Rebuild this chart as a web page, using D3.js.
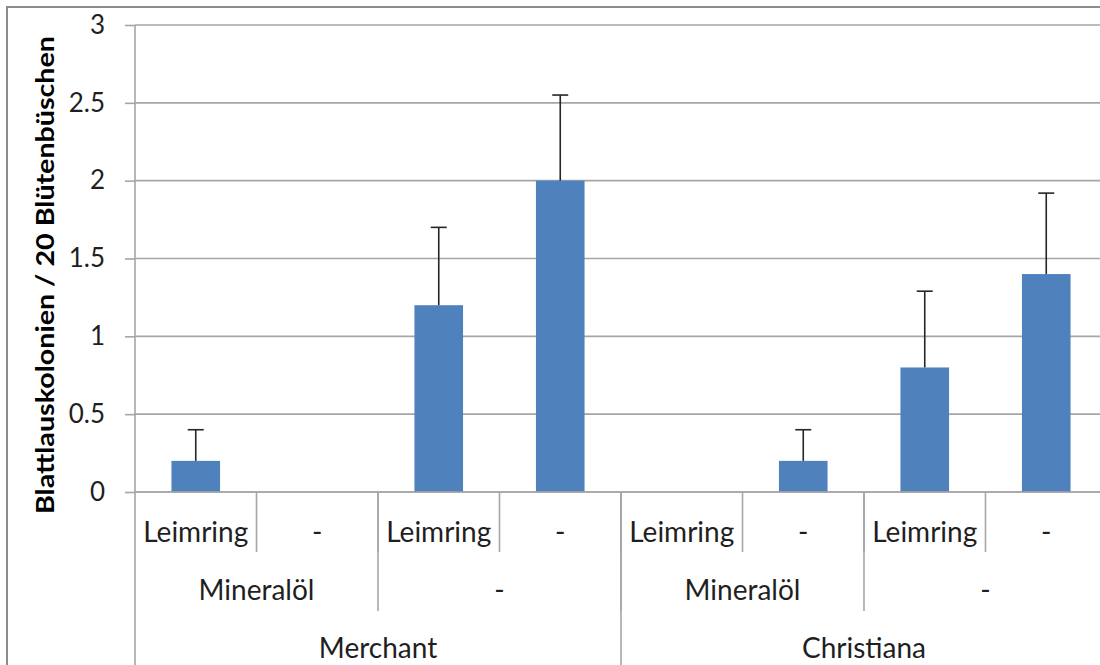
<!DOCTYPE html>
<html>
<head>
<meta charset="utf-8">
<script src="https://cdn.jsdelivr.net/npm/d3@7"></script>
<style>
  body { margin: 0; background: #fff; }
  svg { display: block; font-family: Lato, "Open Sans", sans-serif; }
</style>
</head>
<body>
<div id="chart"></div>
<script>
// data
const varieties = ["Merchant", "Christiana"]
const treatments = ["Mineralöl", "-"]
const barriers = ["Leimring", "-"]
const means = [0.2, 0, 1.2, 2.0, 0, 0.2, 0.8, 1.4]
const errors = [0.2, 0, 0.5, 0.55, 0, 0.2, 0.49, 0.52]
const yTicks = [0, 0.5, 1, 1.5, 2, 2.5, 3]
const yTitle = "Blattlauskolonien  / 20 Blütenbüschen"

const W = 1100, H = 665
const plot = { left: 135, right: 1107, top: 25, bottom: 492 }

const svg = d3.select("#chart").append("svg")
    .attr("width", W)
    .attr("height", H)

// outer chart border (cut off at right/bottom like the original)
svg.append("rect")
    .attr("x", 7).attr("y", 7)
    .attr("width", W + 20).attr("height", H + 20)
    .attr("fill", "none")
    .attr("stroke", "#8c8c8c")
    .attr("stroke-width", 2)

const cats = d3.range(means.length)
const x = d3.scaleBand().domain(cats).range([plot.left, plot.right])
const y = d3.scaleLinear().domain([0, 3]).range([plot.bottom, plot.top])

// horizontal gridlines
svg.selectAll("line.grid")
    .data(yTicks)
    .join("line")
    .attr("class", "grid")
    .attr("x1", plot.left).attr("x2", plot.right)
    .attr("y1", d => y(d)).attr("y2", d => y(d))
    .attr("stroke", "#a6a6a6")
    .attr("stroke-width", 1.6)

// y axis
const yAxis = svg.append("g")
    .attr("transform", `translate(${plot.left},0)`)
    .call(d3.axisLeft(y).tickValues(yTicks).tickSize(10).tickPadding(20).tickFormat(d3.format("")))
yAxis.select(".domain").remove()
yAxis.selectAll(".tick line").attr("stroke", "#a6a6a6").attr("stroke-width", 1.6)
yAxis.selectAll(".tick text")
    .attr("fill", "#1f1f1f")
    .style("font-size", "26px")
    .style("font-family", "Lato, sans-serif")

// vertical axis line, runs down through the category labels
svg.append("line")
    .attr("x1", plot.left).attr("x2", plot.left)
    .attr("y1", plot.top).attr("y2", H)
    .attr("stroke", "#a6a6a6")
    .attr("stroke-width", 1.6)

// y axis title
svg.append("text")
    .attr("transform", `translate(54,275) rotate(-90)`)
    .attr("text-anchor", "middle")
    .attr("textLength", 478)
    .attr("lengthAdjust", "spacingAndGlyphs")
    .style("font-size", "25px")
    .style("font-weight", "bold")
    .attr("fill", "#000")
    .text(yTitle)

// bars
svg.selectAll("rect.bar")
    .data(cats.filter(i => means[i] > 0))
    .join("rect")
    .attr("class", "bar")
    .attr("x", i => x(i) + x.bandwidth() * 0.3)
    .attr("width", x.bandwidth() * 0.4)
    .attr("y", i => y(means[i]))
    .attr("height", i => y(0) - y(means[i]))
    .attr("fill", "#4f81bd")

// error bars (upper only)
const err = svg.selectAll("g.err")
    .data(cats.filter(i => errors[i] > 0))
    .join("g")
    .attr("class", "err")
    .attr("stroke", "#262626")
    .attr("stroke-width", 1.6)
err.append("line")
    .attr("x1", i => x(i) + x.bandwidth() / 2)
    .attr("x2", i => x(i) + x.bandwidth() / 2)
    .attr("y1", i => y(means[i]))
    .attr("y2", i => y(means[i] + errors[i]))
err.append("line")
    .attr("x1", i => x(i) + x.bandwidth() / 2 - 8)
    .attr("x2", i => x(i) + x.bandwidth() / 2 + 8)
    .attr("y1", i => y(means[i] + errors[i]))
    .attr("y2", i => y(means[i] + errors[i]))

// baseline on top of bars
svg.append("line")
    .attr("x1", plot.left).attr("x2", plot.right)
    .attr("y1", y(0)).attr("y2", y(0))
    .attr("stroke", "#a6a6a6")
    .attr("stroke-width", 1.6)

// multi-level category axis
const bw = x.bandwidth()
const level1 = cats.map(i => ({ label: barriers[i % 2], x0: x(i), x1: x(i) + bw }))
const level2 = d3.range(4).map(j => ({ label: treatments[j % 2], x0: x(j * 2), x1: x(j * 2) + 2 * bw }))
const level3 = d3.range(2).map(k => ({ label: varieties[k], x0: x(k * 4), x1: x(k * 4) + 4 * bw }))

const levels = [
    { items: level1, baseline: 542, lineEnd: 552 },
    { items: level2, baseline: 600, lineEnd: 611 },
    { items: level3, baseline: 658, lineEnd: H }
]

levels.forEach(lv => {
    svg.selectAll(null)
        .data(lv.items)
        .join("text")
        .attr("x", d => (d.x0 + d.x1) / 2)
        .attr("y", lv.baseline)
        .attr("text-anchor", "middle")
        .attr("fill", "#1f1f1f")
        .style("font-size", "28px")
        .text(d => d.label)
    svg.selectAll(null)
        .data(lv.items.slice(1))
        .join("line")
        .attr("x1", d => d.x0).attr("x2", d => d.x0)
        .attr("y1", plot.bottom).attr("y2", lv.lineEnd)
        .attr("stroke", "#a6a6a6")
        .attr("stroke-width", 1.6)
})
</script>
</body>
</html>
